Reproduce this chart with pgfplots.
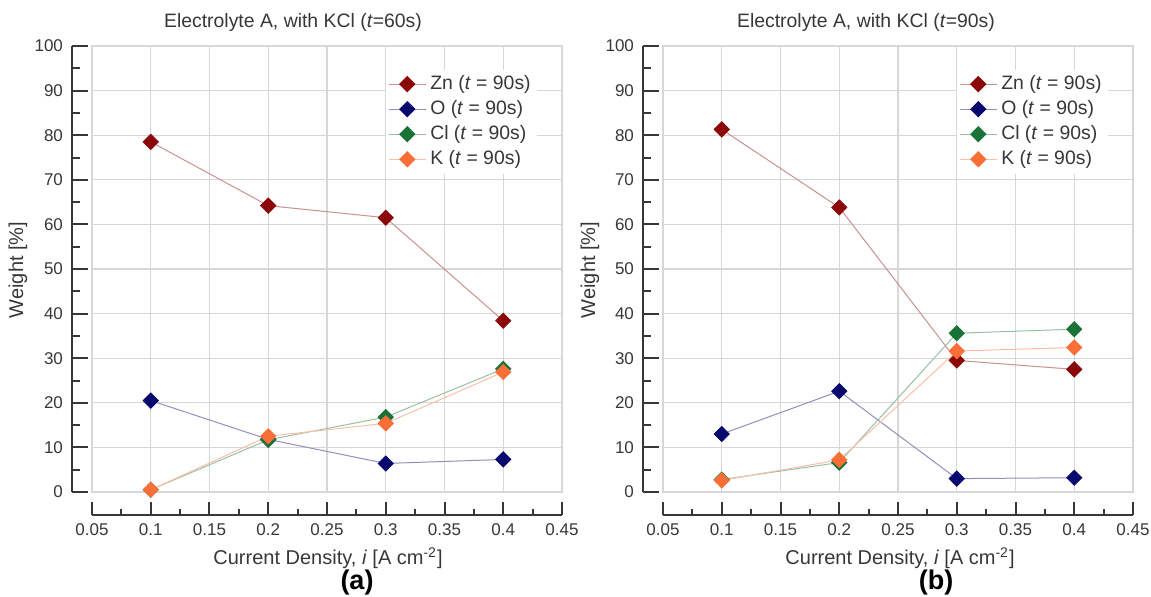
\documentclass[border=0pt]{standalone}
\usepackage{fontspec}
\setmainfont{Liberation Sans}
\usepackage{pgfplots}
\pgfplotsset{compat=1.18}
\definecolor{cZn}{RGB}{140,8,8}
\definecolor{cO}{RGB}{8,8,110}
\definecolor{cCl}{RGB}{25,115,55}
\definecolor{cK}{RGB}{250,110,55}
\definecolor{txt}{RGB}{55,55,55}
\definecolor{gridc}{RGB}{215,215,215}

\pgfplotsset{
  ser/.style={color=#1, draw=#1!45!white, line width=0.5pt, mark=square*, mark size=2.65pt,
     mark options={rotate=45, fill=#1, draw=#1, solid}},
  mainax/.style={scale only axis, width=235pt, height=223pt,
     xmin=0.05, xmax=0.45, ymin=0, ymax=100,
     xtick={0.05,0.1,0.15,0.2,0.25,0.3,0.35,0.4,0.45}, ytick={0,10,20,30,40,50,60,70,80,90,100},
     xticklabels={}, yticklabels={}, major tick length=0pt,
     grid=major, grid style={draw=gridc, line width=0.55pt},
     axis line style={draw=gridc, line width=0.55pt},
     legend style={at={(0.947,0.948)}, anchor=north east, draw=none, fill=white,
        font=\fontsize{9.7}{11}\selectfont, text=txt, row sep=0pt, inner sep=1pt,
        /tikz/every even column/.append style={column sep=3pt}},
     legend cell align=left,
     legend image code/.code={\draw[##1, mark repeat=2, mark phase=2] plot coordinates {(0pt,0pt) (9.25pt,0pt) (18.5pt,0pt)};},
     clip=false},
  xax/.style={scale only axis, width=235pt, height=10pt, xmin=0.05, xmax=0.45, ymin=0, ymax=1,
     axis x line*=bottom, axis y line=none, tick align=inside, scaled ticks=false,
     xtick={0.05,0.1,0.15,0.2,0.25,0.3,0.35,0.4,0.45},
     xticklabels={0.05,0.1,0.15,0.2,0.25,0.3,0.35,0.4,0.45},
     minor x tick num=1,
     major tick length=6.5pt, minor tick length=3pt,
     axis line style={draw=txt, line width=1pt},
     every tick/.style={draw=txt, line width=1pt},
     xticklabel style={font=\fontsize{8.5}{10}\selectfont, text=txt, yshift=-1pt}},
  yax/.style={scale only axis, width=10pt, height=223pt, xmin=0, xmax=1, ymin=0, ymax=100,
     axis y line*=left, axis x line=none, tick align=inside, scaled ticks=false,
     ytick={0,10,20,30,40,50,60,70,80,90,100},
     yticklabels={0,10,20,30,40,50,60,70,80,90,100},
     minor y tick num=1,
     major tick length=8pt, minor tick length=4pt,
     axis line style={draw=txt, line width=1pt},
     every tick/.style={draw=txt, line width=1pt},
     yticklabel style={font=\fontsize{8.5}{10}\selectfont, text=txt, xshift=-1pt}},
}

\begin{document}
\begin{tikzpicture}
\useasboundingbox (0,0) rectangle (575.5pt,298pt);

% ---------- panel (a) ----------
\begin{axis}[mainax, at={(46pt,52pt)}, anchor=origin]
\addplot[ser=cZn] coordinates {(0.1,78.5) (0.2,64.2) (0.3,61.5) (0.4,38.4)};
\addlegendentry{Zn (\textit{t} = 90s)}
\addplot[ser=cO] coordinates {(0.1,20.5) (0.2,11.8) (0.3,6.4) (0.4,7.3)};
\addlegendentry{O (\textit{t} = 90s)}
\addplot[ser=cCl] coordinates {(0.1,0.5) (0.2,11.7) (0.3,16.8) (0.4,27.6)};
\addlegendentry{Cl (\textit{t} = 90s)}
\addplot[ser=cK] coordinates {(0.1,0.5) (0.2,12.5) (0.3,15.4) (0.4,26.9)};
\addlegendentry{K (\textit{t} = 90s)}
\end{axis}
\begin{axis}[xax, at={(46pt,40.5pt)}, anchor=south west]
\addplot[draw=none] coordinates {(0.1,0)};
\end{axis}
\begin{axis}[yax, at={(36pt,52pt)}, anchor=south west]
\addplot[draw=none] coordinates {(0.5,0)};
\end{axis}

% ---------- panel (b) ----------
\begin{axis}[mainax, at={(331.5pt,52pt)}, anchor=origin]
\addplot[ser=cZn] coordinates {(0.1,81.3) (0.2,63.8) (0.3,29.5) (0.4,27.5)};
\addlegendentry{Zn (\textit{t} = 90s)}
\addplot[ser=cO] coordinates {(0.1,13.0) (0.2,22.6) (0.3,3.0) (0.4,3.2)};
\addlegendentry{O (\textit{t} = 90s)}
\addplot[ser=cCl] coordinates {(0.1,2.8) (0.2,6.6) (0.3,35.6) (0.4,36.5)};
\addlegendentry{Cl (\textit{t} = 90s)}
\addplot[ser=cK] coordinates {(0.1,2.6) (0.2,7.2) (0.3,31.6) (0.4,32.4)};
\addlegendentry{K (\textit{t} = 90s)}
\end{axis}
\begin{axis}[xax, at={(331.5pt,40.5pt)}, anchor=south west]
\addplot[draw=none] coordinates {(0.1,0)};
\end{axis}
\begin{axis}[yax, at={(321.5pt,52pt)}, anchor=south west]
\addplot[draw=none] coordinates {(0.5,0)};
\end{axis}

% ---------- texts ----------
\node[text=txt, font=\fontsize{9.7}{11}\selectfont] at (146.5pt,287pt) {Electrolyte A, with KCl (\textit{t}=60s)};
\node[text=txt, font=\fontsize{9.7}{11}\selectfont] at (433pt,287pt) {Electrolyte A, with KCl (\textit{t}=90s)};
\node[text=txt, font=\fontsize{10}{12}\selectfont] at (164pt,19pt) {Current Density, \textit{i} [A cm\textsuperscript{-2}]};
\node[text=txt, font=\fontsize{10}{12}\selectfont] at (450pt,19pt) {Current Density, \textit{i} [A cm\textsuperscript{-2}]};
\node[text=txt, font=\fontsize{10}{12}\selectfont, rotate=90] at (9pt,163pt) {Weight [\%]};
\node[text=txt, font=\fontsize{10}{12}\selectfont, rotate=90] at (295pt,163pt) {Weight [\%]};
\node[font=\fontsize{13.5}{15}\selectfont\bfseries] at (178.5pt,6.5pt) {(a)};
\node[font=\fontsize{13.5}{15}\selectfont\bfseries] at (468pt,6.5pt) {(b)};
\end{tikzpicture}
\end{document}
